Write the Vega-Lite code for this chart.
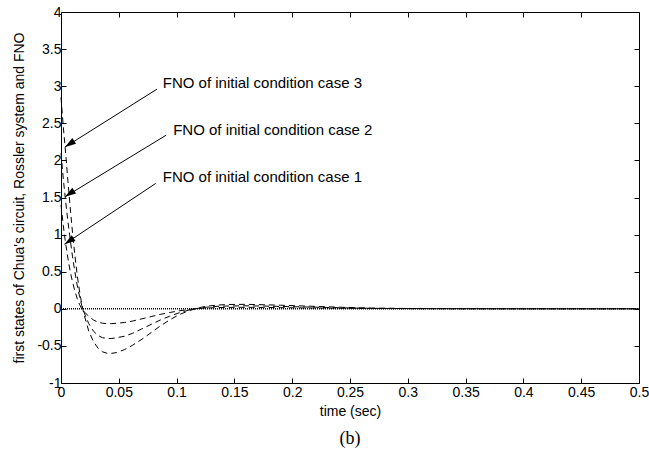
{
  "$schema": "https://vega.github.io/schema/vega-lite/v6.json",
  "width": 578,
  "height": 371,
  "autosize": "none",
  "padding": {"left": 61, "top": 12, "right": 10, "bottom": 69},
  "background": "white",
  "config": {"view": {"stroke": null}, "font": "Liberation Sans"},
  "title": {"text": "(b)", "orient": "bottom", "font": "Liberation Serif", "fontSize": 18, "fontWeight": "normal", "color": "black", "offset": 12},
  "datasets": {
    "fno": [
      {"t":0,"v":2.85,"c":"case 3"},{"t":0.002,"v":2.45,"c":"case 3"},{"t":0.004,"v":2.1,"c":"case 3"},{"t":0.006,"v":1.72,"c":"case 3"},{"t":0.008,"v":1.36,"c":"case 3"},{"t":0.01,"v":1.02,"c":"case 3"},{"t":0.012,"v":0.72,"c":"case 3"},{"t":0.014,"v":0.46,"c":"case 3"},{"t":0.016,"v":0.24,"c":"case 3"},{"t":0.018,"v":0.06,"c":"case 3"},{"t":0.02,"v":-0.08,"c":"case 3"},{"t":0.024,"v":-0.3,"c":"case 3"},{"t":0.028,"v":-0.44,"c":"case 3"},{"t":0.032,"v":-0.53,"c":"case 3"},{"t":0.036,"v":-0.58,"c":"case 3"},{"t":0.04,"v":-0.6,"c":"case 3"},{"t":0.044,"v":-0.6,"c":"case 3"},{"t":0.048,"v":-0.59,"c":"case 3"},{"t":0.055,"v":-0.55,"c":"case 3"},{"t":0.062,"v":-0.49,"c":"case 3"},{"t":0.07,"v":-0.41,"c":"case 3"},{"t":0.078,"v":-0.32,"c":"case 3"},{"t":0.086,"v":-0.23,"c":"case 3"},{"t":0.094,"v":-0.15,"c":"case 3"},{"t":0.102,"v":-0.08,"c":"case 3"},{"t":0.11,"v":-0.03,"c":"case 3"},{"t":0.118,"v":0.01,"c":"case 3"},{"t":0.126,"v":0.035,"c":"case 3"},{"t":0.135,"v":0.05,"c":"case 3"},{"t":0.145,"v":0.058,"c":"case 3"},{"t":0.16,"v":0.06,"c":"case 3"},{"t":0.175,"v":0.055,"c":"case 3"},{"t":0.19,"v":0.048,"c":"case 3"},{"t":0.21,"v":0.038,"c":"case 3"},{"t":0.23,"v":0.027,"c":"case 3"},{"t":0.25,"v":0.017,"c":"case 3"},{"t":0.27,"v":0.01,"c":"case 3"},{"t":0.3,"v":0.004,"c":"case 3"},{"t":0.35,"v":0.001,"c":"case 3"},{"t":0.4,"v":0,"c":"case 3"},{"t":0.5,"v":0,"c":"case 3"},
      {"t":0,"v":2.1,"c":"case 2"},{"t":0.002,"v":1.75,"c":"case 2"},{"t":0.004,"v":1.45,"c":"case 2"},{"t":0.006,"v":1.18,"c":"case 2"},{"t":0.008,"v":0.93,"c":"case 2"},{"t":0.01,"v":0.7,"c":"case 2"},{"t":0.012,"v":0.5,"c":"case 2"},{"t":0.014,"v":0.32,"c":"case 2"},{"t":0.016,"v":0.17,"c":"case 2"},{"t":0.018,"v":0.04,"c":"case 2"},{"t":0.02,"v":-0.05,"c":"case 2"},{"t":0.024,"v":-0.2,"c":"case 2"},{"t":0.028,"v":-0.3,"c":"case 2"},{"t":0.032,"v":-0.36,"c":"case 2"},{"t":0.036,"v":-0.39,"c":"case 2"},{"t":0.04,"v":-0.4,"c":"case 2"},{"t":0.044,"v":-0.4,"c":"case 2"},{"t":0.048,"v":-0.39,"c":"case 2"},{"t":0.055,"v":-0.37,"c":"case 2"},{"t":0.062,"v":-0.33,"c":"case 2"},{"t":0.07,"v":-0.27,"c":"case 2"},{"t":0.078,"v":-0.21,"c":"case 2"},{"t":0.086,"v":-0.15,"c":"case 2"},{"t":0.094,"v":-0.1,"c":"case 2"},{"t":0.102,"v":-0.055,"c":"case 2"},{"t":0.11,"v":-0.02,"c":"case 2"},{"t":0.118,"v":0.005,"c":"case 2"},{"t":0.126,"v":0.022,"c":"case 2"},{"t":0.135,"v":0.033,"c":"case 2"},{"t":0.145,"v":0.038,"c":"case 2"},{"t":0.16,"v":0.04,"c":"case 2"},{"t":0.175,"v":0.037,"c":"case 2"},{"t":0.19,"v":0.032,"c":"case 2"},{"t":0.21,"v":0.025,"c":"case 2"},{"t":0.23,"v":0.018,"c":"case 2"},{"t":0.25,"v":0.011,"c":"case 2"},{"t":0.27,"v":0.006,"c":"case 2"},{"t":0.3,"v":0.003,"c":"case 2"},{"t":0.35,"v":0.001,"c":"case 2"},{"t":0.4,"v":0,"c":"case 2"},{"t":0.5,"v":0,"c":"case 2"},
      {"t":0,"v":1.4,"c":"case 1"},{"t":0.002,"v":1.12,"c":"case 1"},{"t":0.004,"v":0.88,"c":"case 1"},{"t":0.006,"v":0.68,"c":"case 1"},{"t":0.008,"v":0.5,"c":"case 1"},{"t":0.01,"v":0.36,"c":"case 1"},{"t":0.012,"v":0.24,"c":"case 1"},{"t":0.014,"v":0.14,"c":"case 1"},{"t":0.016,"v":0.06,"c":"case 1"},{"t":0.018,"v":0,"c":"case 1"},{"t":0.02,"v":-0.04,"c":"case 1"},{"t":0.024,"v":-0.1,"c":"case 1"},{"t":0.028,"v":-0.15,"c":"case 1"},{"t":0.032,"v":-0.18,"c":"case 1"},{"t":0.036,"v":-0.195,"c":"case 1"},{"t":0.04,"v":-0.2,"c":"case 1"},{"t":0.044,"v":-0.2,"c":"case 1"},{"t":0.048,"v":-0.195,"c":"case 1"},{"t":0.055,"v":-0.185,"c":"case 1"},{"t":0.062,"v":-0.165,"c":"case 1"},{"t":0.07,"v":-0.135,"c":"case 1"},{"t":0.078,"v":-0.105,"c":"case 1"},{"t":0.086,"v":-0.075,"c":"case 1"},{"t":0.094,"v":-0.05,"c":"case 1"},{"t":0.102,"v":-0.028,"c":"case 1"},{"t":0.11,"v":-0.01,"c":"case 1"},{"t":0.118,"v":0.003,"c":"case 1"},{"t":0.126,"v":0.011,"c":"case 1"},{"t":0.135,"v":0.016,"c":"case 1"},{"t":0.145,"v":0.019,"c":"case 1"},{"t":0.16,"v":0.02,"c":"case 1"},{"t":0.175,"v":0.018,"c":"case 1"},{"t":0.19,"v":0.016,"c":"case 1"},{"t":0.21,"v":0.012,"c":"case 1"},{"t":0.23,"v":0.009,"c":"case 1"},{"t":0.25,"v":0.006,"c":"case 1"},{"t":0.27,"v":0.003,"c":"case 1"},{"t":0.3,"v":0.001,"c":"case 1"},{"t":0.35,"v":0,"c":"case 1"},{"t":0.5,"v":0,"c":"case 1"}
    ],
    "zero": [{"t":0,"v":0},{"t":0.5,"v":0}],
    "arrows": [
      {"t":0.083,"v":2.96,"t2":0.0035,"v2":2.18},
      {"t":0.091,"v":2.34,"t2":0.0035,"v2":1.51},
      {"t":0.082,"v":1.69,"t2":0.003,"v2":0.87}
    ],
    "labels": [
      {"t":0.088,"v":3.04,"text":"FNO of initial condition case 3"},
      {"t":0.097,"v":2.41,"text":"FNO of initial condition case 2"},
      {"t":0.088,"v":1.77,"text":"FNO of initial condition case 1"}
    ]
  },
  "resolve": {"axis": {"x": "independent", "y": "independent"}},
  "layer": [
    {
      "data": {"name": "zero"},
      "mark": {"type": "line", "color": "black", "strokeWidth": 1.5, "strokeDash": [1, 1], "clip": true},
      "encoding": {
        "x": {"field": "t", "type": "quantitative", "scale": {"domain": [0, 0.5], "nice": false, "zero": false},
          "axis": {"orient": "bottom", "title": "time (sec)", "values": [0,0.05,0.1,0.15,0.2,0.25,0.3,0.35,0.4,0.45,0.5], "labelExpr": "toString(datum.value)", "grid": false, "domainColor": "black", "domainWidth": 1, "tickColor": "black", "tickSize": -5, "labelPadding": 7, "labelFontSize": 14, "labelColor": "black", "labelFont": "Liberation Sans", "titleFont": "Liberation Sans", "titleFontSize": 14, "titleFontWeight": "normal", "titleColor": "black", "titlePadding": 5, "labelFlush": false, "labelOverlap": false}},
        "y": {"field": "v", "type": "quantitative", "scale": {"domain": [-1, 4], "nice": false, "zero": false},
          "axis": {"orient": "left", "title": "first states of Chua's circuit, Rossler system and FNO", "values": [-1,-0.5,0,0.5,1,1.5,2,2.5,3,3.5,4], "labelExpr": "toString(datum.value)", "grid": false, "domainColor": "black", "domainWidth": 1, "tickColor": "black", "tickSize": -5, "labelPadding": 5, "labelFontSize": 14, "labelColor": "black", "labelFont": "Liberation Sans", "titleFont": "Liberation Sans", "titleFontSize": 14, "titleFontWeight": "normal", "titleColor": "black", "titlePadding": 10, "labelFlush": false, "labelOverlap": false}}
      }
    },
    {
      "data": {"name": "fno"},
      "mark": {"type": "line", "color": "black", "strokeWidth": 1, "strokeDash": [6, 4]},
      "encoding": {
        "x": {"field": "t", "type": "quantitative", "axis": null},
        "y": {"field": "v", "type": "quantitative", "axis": null},
        "detail": {"field": "c"}
      }
    },
    {
      "data": {"name": "arrows"},
      "mark": {"type": "rule", "color": "black", "strokeWidth": 1},
      "encoding": {
        "x": {"field": "t", "type": "quantitative", "axis": null},
        "y": {"field": "v", "type": "quantitative", "axis": null},
        "x2": {"field": "t2"},
        "y2": {"field": "v2"}
      }
    },
    {
      "data": {"name": "arrows"},
      "mark": {"type": "point", "shape": "M0,0L-0.8,2.6L0.8,2.6Z", "filled": true, "color": "black", "opacity": 1, "size": 72, "angle": 236},
      "encoding": {
        "x": {"field": "t2", "type": "quantitative", "axis": null},
        "y": {"field": "v2", "type": "quantitative", "axis": null}
      }
    },
    {
      "data": {"name": "labels"},
      "mark": {"type": "text", "align": "left", "baseline": "middle", "font": "Liberation Sans", "fontSize": 15, "color": "black"},
      "encoding": {
        "x": {"field": "t", "type": "quantitative", "axis": {"orient": "top", "labels": false, "title": null, "grid": false, "values": [0,0.05,0.1,0.15,0.2,0.25,0.3,0.35,0.4,0.45,0.5], "domainColor": "black", "tickColor": "black", "tickSize": -5}},
        "y": {"field": "v", "type": "quantitative", "axis": {"orient": "right", "labels": false, "title": null, "grid": false, "values": [-1,-0.5,0,0.5,1,1.5,2,2.5,3,3.5,4], "domainColor": "black", "tickColor": "black", "tickSize": -5}},
        "text": {"field": "text"}
      }
    }
  ]
}
